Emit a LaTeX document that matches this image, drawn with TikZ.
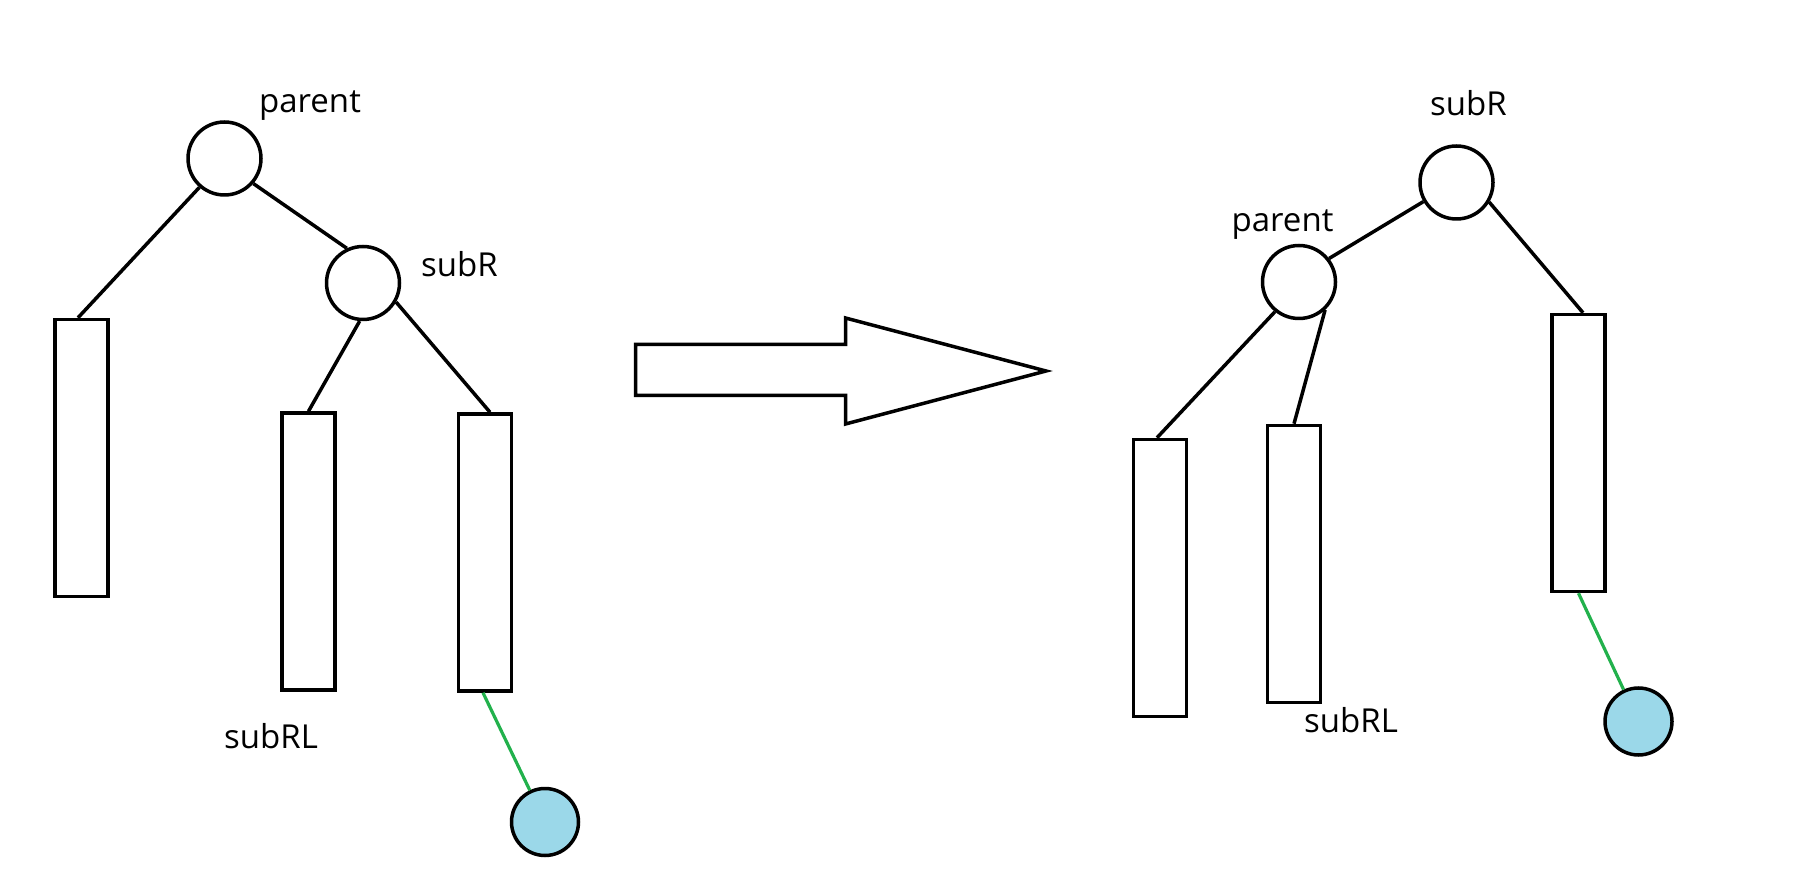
\documentclass[tikz,border=0pt]{standalone}
\usepackage{fontspec}
\setmainfont{Open Sans}
\usetikzlibrary{calc}
\definecolor{leafblue}{RGB}{155,216,233}
\definecolor{linkgreen}{RGB}{34,177,76}
\begin{document}
\begin{tikzpicture}[x=0.5pt,y=-0.5pt, line width=1.75pt,
  treenode/.style={circle,draw,minimum size=36.5pt,inner sep=0pt},
  leafnode/.style={circle,draw,fill=leafblue,minimum size=33.5pt,inner sep=0pt},
  subtree/.style={rectangle,draw,minimum width=26.5pt,minimum height=138.5pt,inner sep=0pt},
  lbl/.style={anchor=base,font=\fontsize{16.5}{20}\selectfont,inner sep=0pt},
  edge/.style={draw=black,line width=1.75pt},
  newedge/.style={draw=linkgreen,line width=1.6pt},
  bigarrow/.style={draw=black,line width=1.75pt,line join=miter,fill=white}]
\useasboundingbox (0,0) rectangle (1804,876);

% ---------- left tree ----------
\node[treenode] (pL) at (224.5,158.5) {};
\node[treenode] (sL) at (363,283) {};
\node[subtree] (rL1) at (81.5,458) {};
\node[subtree] (rL2) at (308.5,551.5) {};
\node[subtree] (rL3) at (485,552.5) {};
\node[leafnode] (bL) at (545,822) {};

\node[lbl] (tpL) at (310,113) {parent};
\node[lbl] (tsL) at (459.5,277) {subR};
\node[lbl] (trlL) at (271,748) {subRL};

\draw[edge] (pL.-131) -- ($(rL1.north)+(-3.5,0)$);
\draw[edge] (pL.-41) -- (sL.115);
\draw[edge] (sL.-95) -- (rL2.north);
\draw[edge] (sL.-30) -- ($(rL3.north)+(5,0)$);
\draw[newedge] ($(rL3.south)+(-2,0)$) -- (bL);

% ---------- arrow ----------
\draw[bigarrow] (635.5,344.5) -- (845.5,344.5) -- (845.5,318) -- (1046,371)
  -- (845.5,424) -- (845.5,395.5) -- (635.5,395.5) -- cycle;

% ---------- right tree ----------
\node[treenode] (sR) at (1456.5,182.5) {};
\node[treenode] (pR) at (1299,282) {};
\node[subtree] (rR1) at (1160,578) {};
\node[subtree] (rR2) at (1294,564) {};
\node[subtree] (rR3) at (1578.5,453) {};
\node[leafnode] (bR) at (1638.5,721.5) {};

\node[lbl] (tsR) at (1468.5,116) {subR};
\node[lbl] (tpR) at (1282.5,232) {parent};
\node[lbl] (trlR) at (1351,732) {subRL};

\draw[edge] (sR.210) -- (pR.38);
\draw[edge] (sR.-31) -- ($(rR3.north)+(4.5,0)$);
\draw[edge] (pR.-129) -- ($(rR1.north)+(-3,0)$);
\draw[edge] (pR.-47) -- (rR2.north);
\draw[newedge] (rR3.south) -- (bR);
\end{tikzpicture}
\end{document}
